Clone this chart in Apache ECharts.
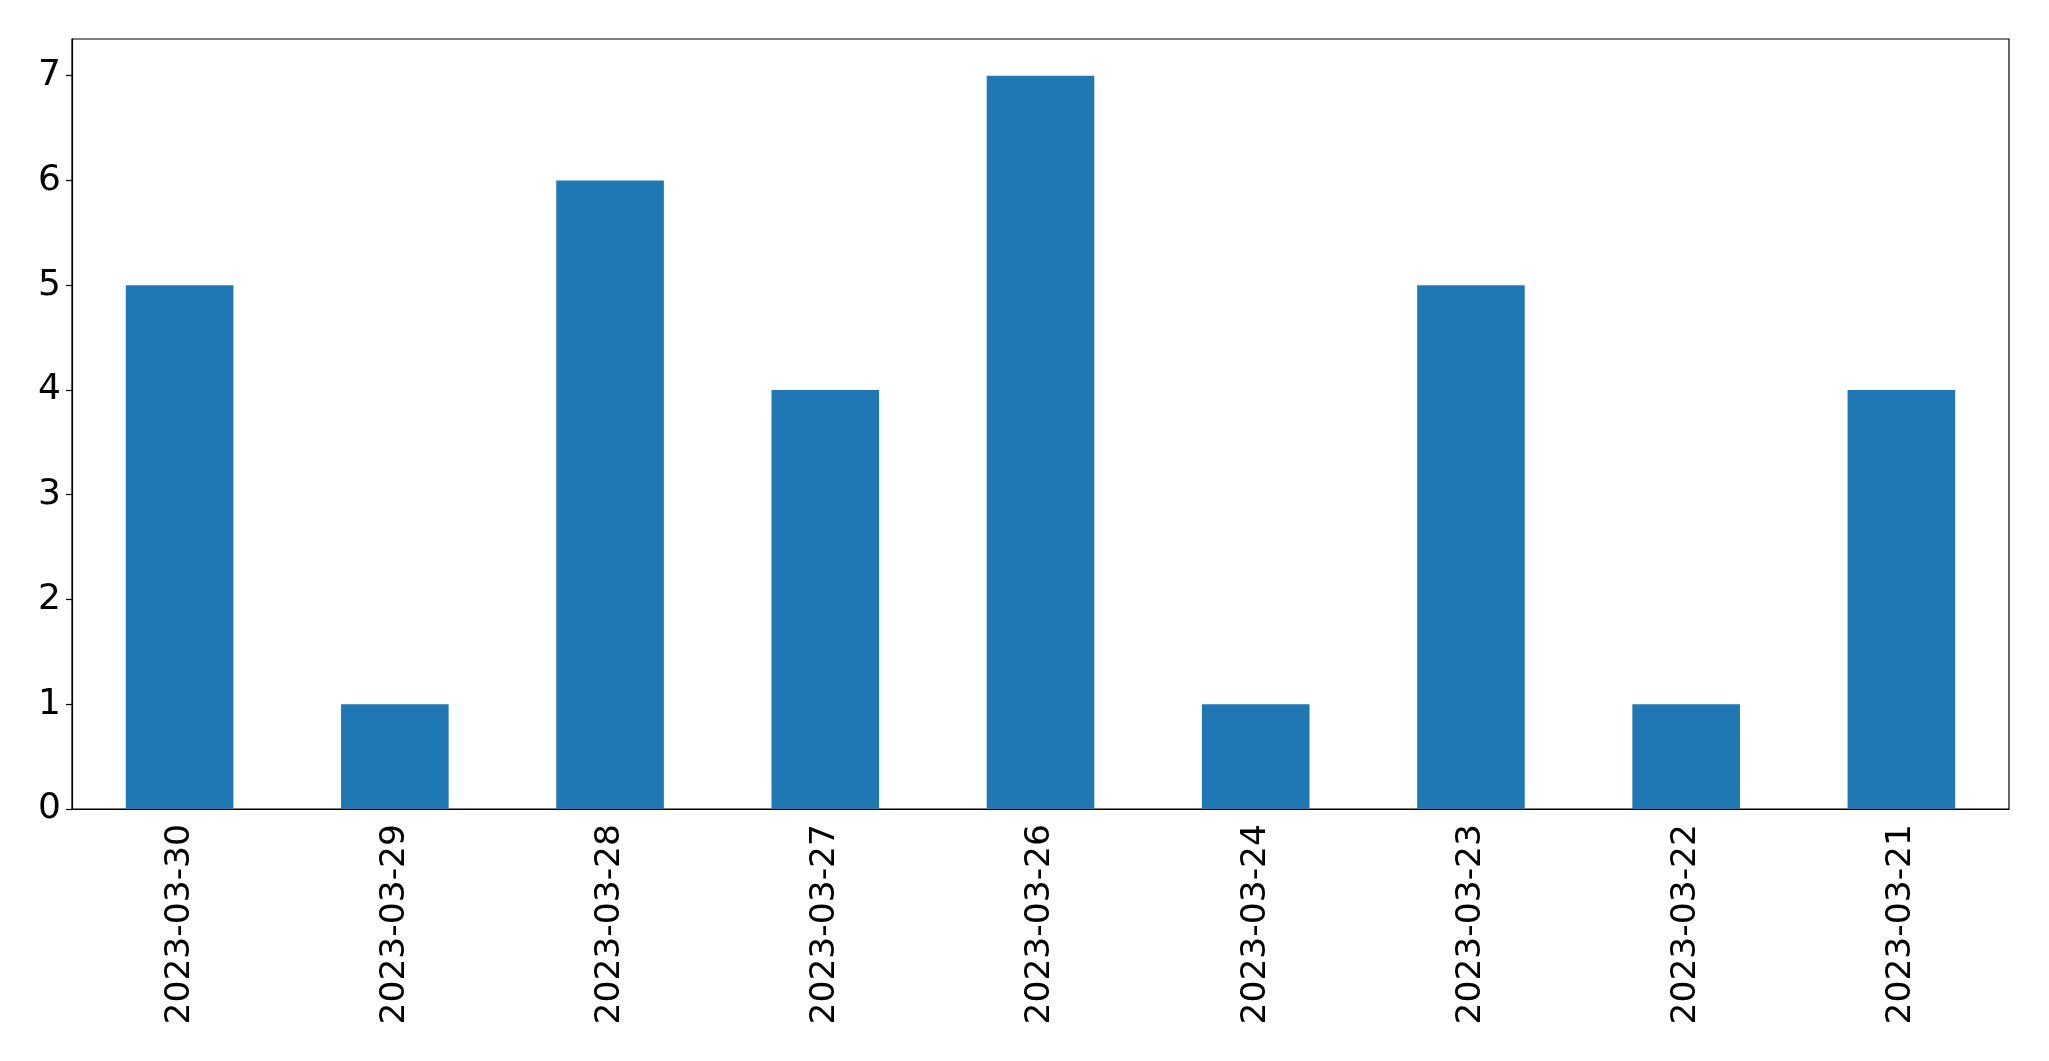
<!DOCTYPE html>
<html>
<head>
<meta charset="utf-8">
<script src="https://cdn.jsdelivr.net/npm/echarts@6/dist/echarts.min.js"></script>
<style>html,body{margin:0;padding:0;background:#fff;}#c{width:2049px;height:1061px;}</style>
</head>
<body>
<div id="c"></div>
<script>
const categories = ['2023-03-30','2023-03-29','2023-03-28','2023-03-27','2023-03-26','2023-03-24','2023-03-23','2023-03-22','2023-03-21'];
const values = [5, 1, 6, 4, 7, 1, 5, 1, 4];
const yTicks = [0, 1, 2, 3, 4, 5, 6, 7];

const chart = echarts.init(document.getElementById('c'), null, {renderer: 'canvas'});
const font = 'DejaVu Sans';
chart.setOption({
  animation: false,
  backgroundColor: '#fff',
  grid: {left: 72, top: 39, width: 1937, height: 770, show: true, borderColor: '#000', borderWidth: 1.2, containLabel: false},
  xAxis: {
    type: 'category',
    data: categories,
    boundaryGap: true,
    axisLine: {lineStyle: {color: '#000', width: 1.2}},
    axisTick: {alignWithLabel: true, length: 6, lineStyle: {color: '#000', width: 1.2}},
    axisLabel: {rotate: 90, fontSize: 34.5, color: '#000', fontFamily: font, margin: 15, interval: 0}
  },
  yAxis: {
    type: 'value',
    min: 0,
    max: 7.35,
    interval: 1,
    splitLine: {show: false},
    axisLine: {show: true, lineStyle: {color: '#000', width: 1.2}},
    axisTick: {show: true, length: 6, lineStyle: {color: '#000', width: 1.2}, customValues: yTicks},
    axisLabel: {fontSize: 36, color: '#000', fontFamily: font, margin: 11, customValues: yTicks}
  },
  series: [{
    type: 'bar',
    data: values,
    barWidth: '50%',
    itemStyle: {color: '#1f77b4'}
  }]
});
</script>
</body>
</html>
